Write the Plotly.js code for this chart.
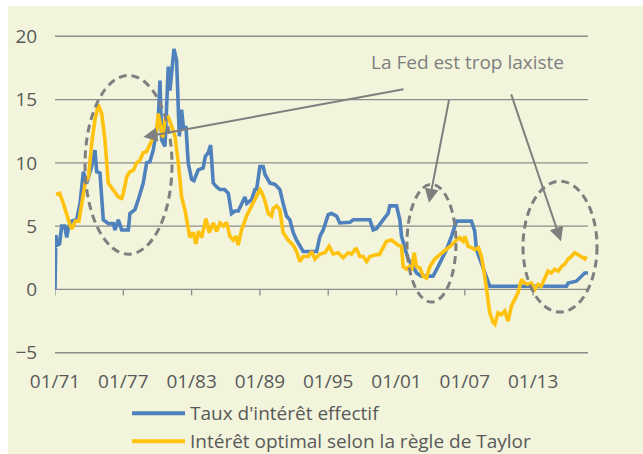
<!DOCTYPE html>
<html>
<head>
<meta charset="utf-8">
<script src="https://cdn.plot.ly/plotly-3.0.1.min.js"></script>
<style>
  html, body { margin: 0; padding: 0; background: #ffffff; width: 643px; height: 454px; overflow: hidden; }
  #chart { position: absolute; left: 8px; top: 6px; width: 635px; height: 476px; }
</style>
</head>
<body>
<div id="chart"></div>
<script>
// ---- Data (decimal years, %) ----
const seriesNames = ["Taux d'intérêt effectif", "Intérêt optimal selon la règle de Taylor"];

const effX = [1971.00,1971.08,1971.2,1971.4,1971.59,1971.85,1972.03,1972.2,1972.47,1972.9,1973.2,1973.49,1973.78,1974.22,1974.51,1974.66,1974.95,1975.24,1975.7,1976.12,1976.27,1976.56,1976.86,1977.44,1977.58,1978.02,1978.32,1978.75,1979.05,1979.34,1979.63,1979.8,1980.07,1980.22,1980.37,1980.66,1980.95,1981.1,1981.25,1981.45,1981.68,1981.92,1982.12,1982.3,1982.5,1982.7,1983.0,1983.2,1983.58,1984.02,1984.2,1984.46,1984.67,1984.9,1985.2,1985.49,1985.9,1986.22,1986.51,1986.8,1987.1,1987.39,1987.68,1987.85,1988.27,1988.56,1988.71,1989.0,1989.29,1989.44,1989.88,1990.32,1990.75,1991.04,1991.34,1991.63,1991.92,1992.22,1992.5,1992.8,1993.98,1994.27,1994.56,1995.0,1995.29,1995.73,1996.02,1996.9,1997.19,1998.66,1998.95,1999.24,1999.82,2000.26,2000.41,2001.0,2001.29,2001.44,2001.73,2002.02,2002.46,2002.76,2003.19,2004.21,2004.65,2005.39,2005.83,2006.27,2007.58,2007.87,2008.02,2008.31,2008.6,2008.9,2009.19,2015.93,2016.07,2016.8,2017.24,2017.53,2017.82];
const effY = [0,4.3,3.5,3.6,5.0,5.0,4.1,5.0,5.4,5.5,6.8,9.3,8.4,9.7,11.0,9.3,9.2,5.5,5.2,5.2,4.7,5.5,4.7,4.7,6.0,6.3,7.1,8.4,10.0,10.1,11.0,11.8,13.4,16.5,11.8,11.3,17.6,15.7,17.3,19.0,18.1,12.1,14.2,12.6,12.9,10.0,8.7,8.6,9.45,9.6,10.5,10.8,11.4,8.4,8.1,7.9,7.9,7.6,6.0,6.2,6.2,6.8,7.3,6.8,7.1,7.9,7.9,9.7,9.7,9.1,8.4,8.3,7.9,6.8,5.8,5.5,4.5,3.9,3.5,3.0,3.0,4.2,4.7,5.9,6.0,5.8,5.25,5.3,5.5,5.5,4.7,4.8,5.5,6.0,6.6,6.6,5.5,4.2,3.3,2.4,1.8,1.3,1.05,1.05,1.8,3.15,4.2,5.4,5.4,4.6,3.15,2.4,1.8,1.05,0.25,0.25,0.5,0.65,1.05,1.3,1.3];

const taylorX = [1971.09,1971.4,1971.73,1972.03,1972.35,1972.5,1972.8,1973.1,1973.35,1973.65,1973.95,1974.22,1974.51,1974.8,1975.1,1975.39,1975.68,1975.98,1976.27,1976.56,1976.86,1977.0,1977.3,1977.58,1977.88,1978.17,1978.46,1978.75,1979.05,1979.34,1979.63,1979.93,1980.07,1980.3,1980.46,1980.66,1980.95,1981.25,1981.54,1981.83,1982.12,1982.41,1982.7,1982.85,1983.14,1983.38,1983.6,1983.88,1984.26,1984.55,1984.9,1985.2,1985.49,1985.8,1986.07,1986.36,1986.65,1986.9,1987.09,1987.39,1987.83,1988.12,1988.56,1989.0,1989.15,1989.44,1989.73,1990.02,1990.17,1990.46,1990.75,1991.04,1991.48,1991.92,1992.22,1992.51,1992.8,1993.24,1993.54,1993.83,1994.27,1994.71,1995.08,1995.43,1995.87,1996.31,1996.75,1997.05,1997.34,1997.49,1997.78,1998.07,1998.37,1998.66,1999.24,1999.5,1999.82,2000.12,2000.56,2000.85,2001.14,2001.44,2001.58,2001.88,2002.1,2002.32,2002.55,2002.76,2003.05,2003.34,2003.63,2003.92,2004.36,2004.8,2005.39,2005.83,2006.27,2006.56,2006.71,2006.85,2007.0,2007.29,2007.6,2007.87,2008.2,2008.46,2008.75,2009.04,2009.19,2009.48,2009.65,2009.92,2010.2,2010.51,2010.8,2011.1,2011.39,2011.68,2011.98,2012.26,2012.55,2012.85,2013.14,2013.43,2013.7,2014.02,2014.31,2014.6,2014.9,2015.2,2015.49,2015.78,2016.07,2016.37,2016.65,2016.95,2017.24,2017.53,2017.68];
const taylorY = [7.5,7.6,6.8,5.9,5.0,4.8,5.4,5.4,6.8,8.4,8.9,11.5,13.4,14.6,13.9,11.8,8.4,8.0,7.6,7.3,7.2,7.6,8.9,9.3,9.4,10.0,10.2,10.8,10.9,11.5,12.0,12.6,13.9,12.6,12.0,13.4,13.6,12.9,12.1,10.0,7.3,6.3,4.7,4.1,4.5,3.6,4.6,4.1,5.6,4.5,5.25,4.6,5.25,5.0,5.3,4.2,3.9,4.2,3.5,4.7,5.8,6.3,7.2,7.9,7.7,7.0,6.0,5.8,6.4,6.6,6.3,4.5,3.9,3.5,3.0,2.2,2.6,2.6,3.0,2.4,2.8,2.9,3.4,2.8,2.9,2.5,2.9,2.8,3.15,3.2,2.6,2.6,2.2,2.6,2.75,2.75,3.3,3.8,3.9,3.7,3.5,3.4,1.8,1.6,1.8,1.5,2.9,1.8,1.7,1.05,0.9,1.8,2.4,2.75,3.15,3.5,3.9,4.1,3.9,3.8,4.2,3.4,3.3,3.15,3.3,2.6,1.05,-0.8,-1.85,-2.6,-2.75,-1.85,-2.0,-1.7,-2.5,-1.3,-0.8,-0.25,0.8,0.5,0.4,0.5,0.0,0.4,0.25,0.9,1.45,1.3,1.6,1.45,1.8,2.0,2.4,2.6,2.9,2.75,2.6,2.4,2.6];

const xTickVals = [1971, 1977, 1983, 1989, 1995, 2001, 2007, 2013];
const xTickLabels = ["01/71", "01/77", "01/83", "01/89", "01/95", "01/01", "01/07", "01/13"];
const yTickVals = [-5, 0, 5, 10, 15, 20];
const annotationText = "La Fed est trop laxiste";

// ---- Styles ----
const BLUE = '#4F81BD';
const YELLOW = '#FFC20E';
const GRID = '#8C8C8C';
const TXT = '#595959';
const BG = '#F2F5DC';
const FONT = 'Open Sans, sans-serif';
const xRange = [1971, 2017.82];
const yRange = [-5.1, 20.1];
const colors = [BLUE, YELLOW];

const traces = [
  { x: effX, y: effY, name: seriesNames[0], type: 'scatter', mode: 'lines',
    line: { color: BLUE, width: 3.6 } },
  { x: taylorX, y: taylorY, name: seriesNames[1], type: 'scatter', mode: 'lines',
    line: { color: YELLOW, width: 3.6 } }
];

// Horizontal gridlines at the y ticks, and tick marks on the zero line
const gridShapes = yTickVals.map(v => ({
  type: 'line', xref: 'paper', yref: 'y', x0: 0, x1: 1, y0: v, y1: v,
  line: { color: GRID, width: 1.3 }, layer: 'below'
}));
const zeroTickShapes = xTickVals.map(v => ({
  type: 'line', xref: 'x', yref: 'y', ysizemode: 'pixel', yanchor: 0,
  x0: v, x1: v, y0: 0, y1: -6,
  line: { color: GRID, width: 1.3 }, layer: 'below'
}));

const ellipse = (x0, x1, y0, y1) => ({
  type: 'circle', xref: 'paper', yref: 'paper', x0, x1, y0, y1,
  line: { color: '#7F7F7F', width: 3, dash: '8px,5px' }, fillcolor: 'rgba(0,0,0,0)', layer: 'above'
});

const arrow = (x, y, ax, ay) => ({
  xref: 'paper', yref: 'paper', x, y, ax, ay, text: '', showarrow: true,
  arrowhead: 2, arrowsize: 1.4, arrowwidth: 2, arrowcolor: '#7F7F7F', standoff: 0
});

// Legend (drawn below the plot, long line samples as in the original)
const legendRowsY = [-0.1856, -0.2732];
const legendLines = seriesNames.map((n, i) => ({
  type: 'line', xref: 'paper', yref: 'paper', x0: 0.1445, x1: 0.2439,
  y0: legendRowsY[i], y1: legendRowsY[i],
  line: { color: colors[i], width: 4 }
}));
const legendTexts = seriesNames.map((n, i) => ({
  xref: 'paper', yref: 'paper', x: 0.2495, y: legendRowsY[i] + 0.002,
  xanchor: 'left', yanchor: 'middle', text: n, showarrow: false,
  font: { family: FONT, size: 19, color: TXT }
}));

const layout = {
  width: 635, height: 476,
  margin: { l: 47, r: 55, t: 28.5, b: 128, autoexpand: false },
  paper_bgcolor: BG, plot_bgcolor: BG,
  font: { family: FONT, size: 19, color: TXT },
  showlegend: false,
  xaxis: {
    range: xRange, tickvals: xTickVals, ticktext: xTickLabels,
    showgrid: false, zeroline: false, showline: false,
    ticks: 'outside', ticklen: 10, tickcolor: 'rgba(0,0,0,0)',
    tickfont: { family: FONT, size: 19, color: TXT }, fixedrange: true
  },
  yaxis: {
    range: yRange, tickvals: yTickVals,
    showgrid: false, zeroline: false, showline: false,
    ticks: 'outside', ticklen: 13, tickcolor: 'rgba(0,0,0,0)',
    tickfont: { family: FONT, size: 19, color: TXT }, fixedrange: true
  },
  shapes: gridShapes.concat(zeroTickShapes, [
    ellipse(0.0563, 0.2195, 0.3130, 0.8732),
    ellipse(0.6604, 0.7523, 0.1628, 0.5321),
    ellipse(0.8780, 1.0169, 0.1315, 0.5415)
  ], legendLines),
  annotations: [
    { xref: 'paper', yref: 'paper', x: 0.773, y: 0.914, text: annotationText, showarrow: false,
      font: { family: FONT, size: 19, color: '#7F7F7F' }, xanchor: 'center', yanchor: 'middle' },
    arrow(0.1657, 0.680, 261.7, -48),
    arrow(0.7017, 0.4742, 20.3, -104.2),
    arrow(0.9493, 0.3537, -50.3, -148.3)
  ].concat(legendTexts)
};

Plotly.newPlot('chart', traces, layout, { displayModeBar: false, staticPlot: true });
</script>
</body>
</html>
